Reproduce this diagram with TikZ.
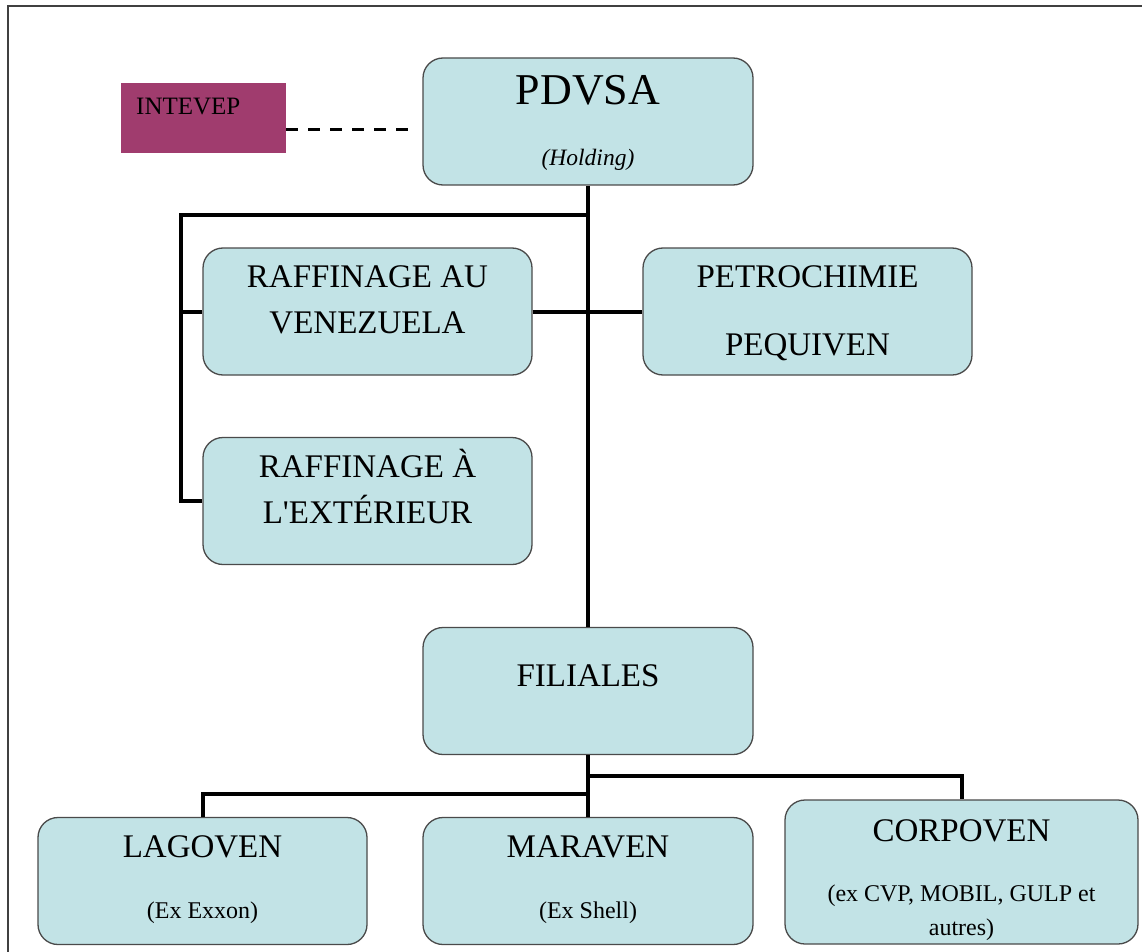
\documentclass[tikz,border=0pt]{standalone}
\usepackage{fontspec}
\setmainfont{Liberation Serif}
\definecolor{boxfill}{HTML}{C2E3E6}
\definecolor{boxline}{HTML}{4A4A4A}
\definecolor{labfill}{HTML}{A03C6E}
\tikzset{
  unit/.style={draw=boxline, fill=boxfill, rounded corners=20pt, line width=1.3pt,
    minimum width=329pt, minimum height=127pt, inner sep=0pt},
  link/.style={line width=4pt},
  big/.style={font=\fontsize{33}{46}\selectfont, anchor=base, align=center, inner sep=0pt},
  small/.style={font=\fontsize{24}{34}\selectfont, anchor=base, align=center, inner sep=0pt},
}
\begin{document}
\begin{tikzpicture}[x=1pt, y=-1pt]
\useasboundingbox (0,0) rectangle (1142,952);
\draw[line width=2pt, black!75] (1142,6) -- (8,6) -- (8,952);
% boxes
\node[fill=labfill, minimum width=165pt, minimum height=70pt, inner sep=0pt] (intevep) at (203.5,118) {};
\node[unit, minimum width=330pt] (pdvsa) at (588,121.5) {};
\node[unit] (ven) at (367.5,311.5) {};
\node[unit] (petro) at (807.5,311.5) {};
\node[unit] (ext) at (367.5,501) {};
\node[unit, minimum width=330pt] (fil) at (588,691) {};
\node[unit] (lago) at (202.5,881) {};
\node[unit, minimum width=330pt] (mara) at (588,881) {};
\node[unit, minimum width=353pt, minimum height=144pt] (corp) at (961.5,872) {};
% texts (base = last line)
\node[anchor=base west, inner sep=0pt, font=\fontsize{25}{30}\selectfont] (inteveptext) at (136,115) {INTEVEP};
\node[anchor=base, inner sep=0pt, font=\fontsize{44}{50}\selectfont] (pdvsaname) at (588,105) {PDVSA};
\node[small, font=\fontsize{23.5}{30}\selectfont\itshape] (pdvsanote) at (588,166) {(Holding)};
\node[big] (ventext) at (367.5,333) {RAFFINAGE AU\\VENEZUELA};
\node[big] (petrotext) at (807.5,355) {PETROCHIMIE\\[22pt]PEQUIVEN};
\node[big] (exttext) at (367.5,523) {RAFFINAGE À\\L\textquotesingle EXTÉRIEUR};
\node[big] (filtext) at (588,686) {FILIALES};
\node[big] (lagoname) at (202.5,857) {LAGOVEN};
\node[small] (lagonote) at (202.5,918) {(Ex Exxon)};
\node[big] (maraname) at (588,857) {MARAVEN};
\node[small] (maranote) at (588,918) {(Ex Shell)};
\node[big] (corpname) at (961.5,841) {CORPOVEN};
\node[small] (corpnote) at (961.5,935) {(ex CVP, MOBIL, GULP et\\autres)};
% connectors
\coordinate (dashend) at (408,130);
\coordinate (trunk) at (588,215);
\coordinate (spine) at (181,215);
\draw[line width=3pt, dash pattern=on 12pt off 10pt] (intevep.east |- dashend) -- (dashend);
\draw[link] (pdvsa.south) -- (fil.north);
\draw[link] (trunk) -- (spine) |- (ext.west);
\draw[link] (spine |- ven.west) -- (ven.west);
\draw[link] (ven.east) -- (petro.west);
\draw[link] (fil.south) -- (mara.north);
\draw[link] (fil.south) -- ++(0,21) -| (corp.north);
\draw[link] (fil.south) -- ++(0,39) -| (lago.north);
\end{tikzpicture}
\end{document}
